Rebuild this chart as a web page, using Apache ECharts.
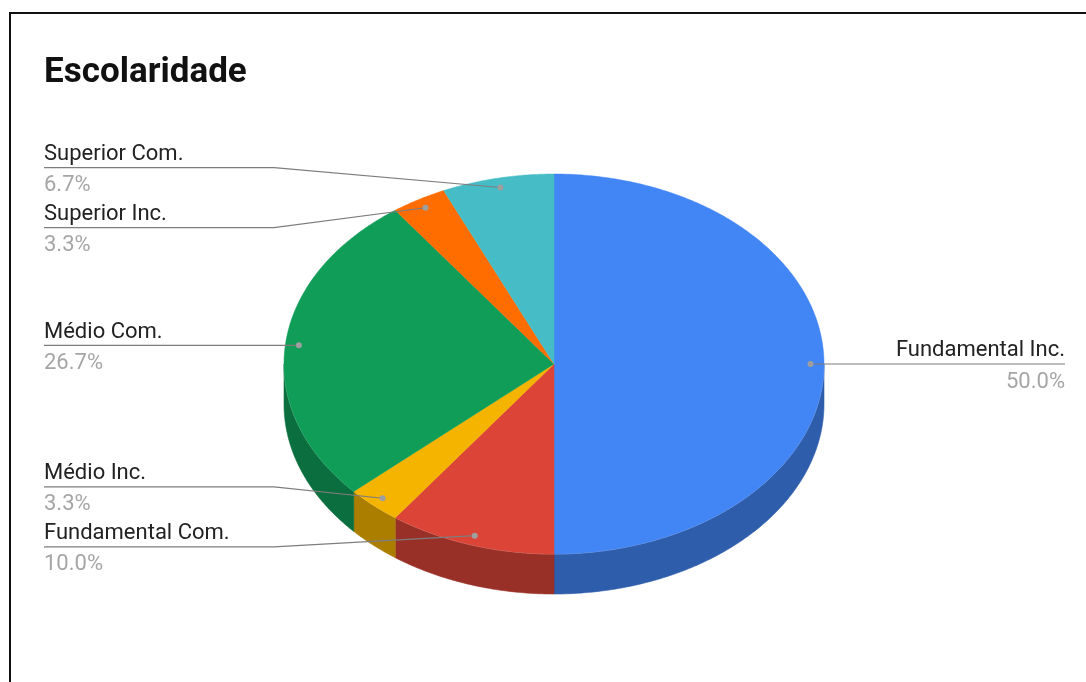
<!DOCTYPE html>
<html>
<head>
<meta charset="utf-8">
<title>Escolaridade</title>
<script src="https://cdn.jsdelivr.net/npm/echarts@6/dist/echarts.min.js"></script>
<style>
  html, body { margin: 0; padding: 0; background: #fff; overflow: hidden; }
  #chart { position: absolute; left: 0; top: 0; width: 1086px; height: 682px; }
  #frame { position: absolute; left: 9px; top: 12px; width: 1200px; height: 800px;
           border: 2px solid #111; pointer-events: none; }
</style>
</head>
<body>
<div id="chart"></div>
<div id="frame"></div>
<script>
// Schooling level of respondents (share of total, %), clockwise from 12 o'clock
const categories = ['Fundamental Inc.', 'Fundamental Com.', 'Médio Inc.', 'Médio Com.', 'Superior Inc.', 'Superior Com.'];
const shares = [50.0, 10.0, 3.3, 26.7, 3.3, 6.7];
const sliceColors = ['#4285F4', '#DB4437', '#F4B400', '#0F9D58', '#FF6D01', '#46BDC6'];

// Tilted-disc geometry
const CX = 554, CY = 364, RX = 270, RY = 190, DEPTH = 40;
const DOT_R = 0.95;          // where the leader line touches the slice
const LABEL_GAP = 60;        // minimum vertical distance between labels
const LEFT_TEXT_X = 44, RIGHT_TEXT_X = 1065;
const LABEL_SIZE = 22;
const FONT = 'Roboto, "Noto Sans", sans-serif';

const total = shares.reduce((a, b) => a + b, 0);
const starts = [];
(function () { let acc = 0; shares.forEach(v => { starts.push(acc / total * 360); acc += v; }); })();

function pt(deg, f, dy) {
  const t = deg * Math.PI / 180;
  return [CX + RX * f * Math.sin(t), CY - RY * f * Math.cos(t) + (dy || 0)];
}
function arc(a0, a1, f, dy) {
  const pts = [];
  for (let a = a0; a < a1; a += 0.5) pts.push(pt(a, f, dy));
  pts.push(pt(a1, f, dy));
  return pts;
}
function shade(hex, k) {
  const n = parseInt(hex.slice(1), 16);
  const r = Math.round(((n >> 16) & 255) * k), g = Math.round(((n >> 8) & 255) * k), b = Math.round((n & 255) * k);
  return 'rgb(' + r + ',' + g + ',' + b + ')';
}

// Label placement: start level with the anchor dot, then push overlapping labels apart
const labels = shares.map((v, i) => {
  const mid = starts[i] + v / total * 180;
  const dot = pt(mid, DOT_R);
  const left = dot[0] < CX;
  return { i, dot, left, y: dot[1] };
});
function spread(items) {
  items.sort((a, b) => a.y - b.y);
  let groups = items.map(it => ({ items: [it] }));
  const center = g => g.items.reduce((s, it) => s + it.y, 0) / g.items.length;
  let changed = true;
  while (changed) {
    changed = false;
    for (let k = 0; k < groups.length - 1; k++) {
      const a = groups[k], b = groups[k + 1];
      const aBottom = center(a) + (a.items.length - 1) * LABEL_GAP / 2;
      const bTop = center(b) - (b.items.length - 1) * LABEL_GAP / 2;
      if (bTop - aBottom < LABEL_GAP) {
        groups.splice(k, 2, { items: a.items.concat(b.items) });
        changed = true;
        break;
      }
    }
  }
  groups.forEach(g => {
    const c = center(g);
    g.items.forEach((it, j) => { it.lineY = c + (j - (g.items.length - 1) / 2) * LABEL_GAP; });
  });
}
spread(labels.filter(l => l.left));
spread(labels.filter(l => !l.left));

function renderSlice(params, api) {
  const i = params.dataIndex;
  const a0 = starts[i];
  const a1 = a0 + api.value(0) / total * 360;
  const color = sliceColors[i];
  const children = [];
  // Front wall: only the part of the rim facing the viewer (90°..270°)
  const s0 = Math.max(a0, 90), s1 = Math.min(a1, 270);
  if (s1 > s0) {
    const topEdge = arc(s0, s1, 1, 0);
    const botEdge = arc(s0, s1, 1, DEPTH).reverse();
    const side = shade(color, 0.7);
    children.push({
      type: 'polygon',
      shape: { points: topEdge.concat(botEdge) },
      style: { fill: side, stroke: side, lineWidth: 0.6 }
    });
    children.push({
      type: 'polyline',
      shape: { points: topEdge },
      style: { fill: null, stroke: 'rgba(255,255,255,0.35)', lineWidth: 1 }
    });
  }
  // Top face
  children.push({
    type: 'polygon',
    shape: { points: [[CX, CY]].concat(arc(a0, a1, 1, 0)) },
    style: { fill: color, stroke: color, lineWidth: 0.5 }
  });
  return { type: 'group', children };
}

function renderLabel(params, api) {
  const L = labels.find(l => l.i === params.dataIndex);
  const textX = L.left ? LEFT_TEXT_X : RIGHT_TEXT_X;
  const bendX = L.left ? CX - RX - 10 : CX + RX + 10;
  const align = L.left ? 'left' : 'right';
  return {
    type: 'group',
    children: [
      {
        type: 'polyline',
        shape: { points: [[textX, L.lineY], [bendX, L.lineY], L.dot] },
        style: { fill: null, stroke: '#7d7d7d', lineWidth: 1.2 }
      },
      { type: 'circle', shape: { cx: L.dot[0], cy: L.dot[1], r: 3 }, style: { fill: '#9e9e9e' } },
      {
        type: 'text', x: textX, y: L.lineY - 13.2,
        style: { text: categories[params.dataIndex], fill: '#222', fontSize: LABEL_SIZE, fontFamily: FONT,
                 align: align, verticalAlign: 'middle' }
      },
      {
        type: 'text', x: textX, y: L.lineY + 18,
        style: { text: api.value(0).toFixed(1) + '%', fill: '#a6a6a6', fontSize: LABEL_SIZE, fontFamily: FONT,
                 align: align, verticalAlign: 'middle' }
      }
    ]
  };
}

const seriesData = shares.map((v, i) => ({ name: categories[i], value: [v, i] }));

const chart = echarts.init(document.getElementById('chart'), null, { renderer: 'canvas' });
chart.setOption({
  backgroundColor: '#fff',
  animation: false,
  title: {
    text: 'Escolaridade',
    left: 44, top: 56, padding: 0,
    textStyle: { fontFamily: FONT, fontWeight: 'bold', fontSize: 35, color: '#111' }
  },
  series: [
    { type: 'custom', coordinateSystem: 'none', renderItem: renderSlice, data: seriesData, z: 2, silent: true },
    { type: 'custom', coordinateSystem: 'none', renderItem: renderLabel, data: seriesData, z: 3, silent: true }
  ]
});
</script>
</body>
</html>
